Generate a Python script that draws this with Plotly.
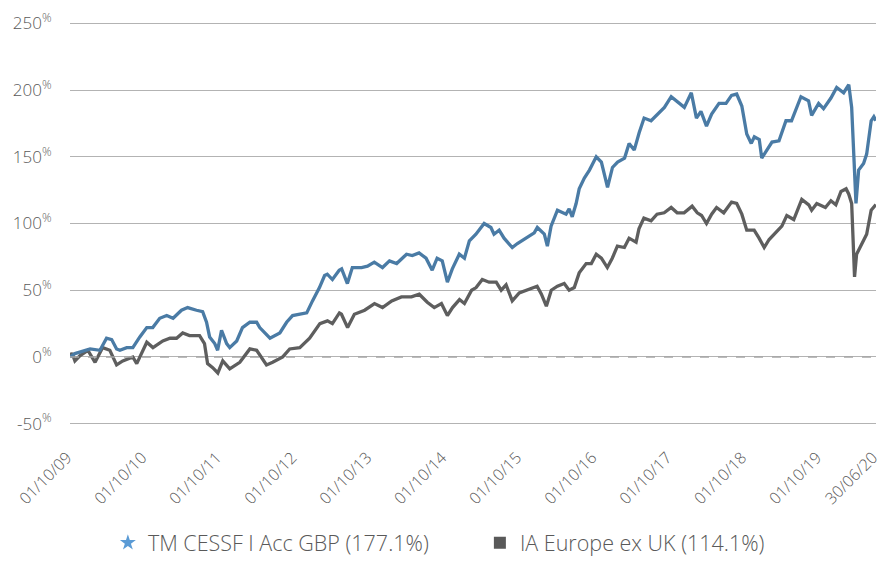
import plotly.graph_objects as go

fund_name = "TM CESSF I Acc GBP (177.1%)"
sector_name = "IA Europe ex UK (114.1%)"

fund_dates = [
    "2009-10-01", "2009-10-25", "2010-01-07", "2010-02-24", "2010-03-28", "2010-04-22",
    "2010-05-16", "2010-06-01", "2010-07-04", "2010-08-03", "2010-09-06", "2010-10-10",
    "2010-11-08", "2010-12-12", "2011-01-15", "2011-02-15", "2011-03-28", "2011-04-27",
    "2011-06-09", "2011-07-09", "2011-07-28", "2011-08-12", "2011-09-06", "2011-09-20",
    "2011-10-09", "2011-11-03", "2011-11-18", "2011-12-22", "2012-01-19", "2012-02-24",
    "2012-03-28", "2012-04-12", "2012-06-01", "2012-07-19", "2012-08-21", "2012-09-19",
    "2012-10-25", "2012-11-27", "2012-12-25", "2013-01-28", "2013-02-22", "2013-03-07",
    "2013-04-01", "2013-05-04", "2013-05-16", "2013-06-13", "2013-07-07", "2013-08-21",
    "2013-09-19", "2013-10-22", "2013-12-01", "2014-01-04", "2014-02-08", "2014-03-28",
    "2014-04-25", "2014-05-28", "2014-07-01", "2014-07-31", "2014-08-24", "2014-09-18",
    "2014-10-13", "2014-11-06", "2014-12-10", "2015-01-04", "2015-01-28", "2015-02-22",
    "2015-03-01", "2015-04-10", "2015-05-13", "2015-05-28", "2015-06-22", "2015-07-16",
    "2015-08-25", "2015-09-19", "2015-11-01", "2015-12-10", "2015-12-25", "2016-01-28",
    "2016-02-12", "2016-03-01", "2016-04-01", "2016-05-13", "2016-05-28", "2016-06-12",
    "2016-07-01", "2016-07-16", "2016-08-10", "2016-09-04", "2016-10-07", "2016-11-01",
    "2016-12-01", "2016-12-25", "2017-01-19", "2017-02-22", "2017-03-16", "2017-04-10",
    "2017-05-04", "2017-05-28", "2017-07-01", "2017-07-31", "2017-09-04", "2017-10-07",
    "2017-11-06", "2017-12-10", "2018-01-13", "2018-02-07", "2018-03-01", "2018-03-28",
    "2018-04-22", "2018-05-28", "2018-07-01", "2018-07-28", "2018-08-22", "2018-09-16",
    "2018-10-10", "2018-11-01", "2018-11-16", "2018-12-10", "2018-12-22", "2019-01-16",
    "2019-02-10", "2019-03-16", "2019-04-19", "2019-05-16", "2019-07-01", "2019-08-07",
    "2019-08-22", "2019-09-25", "2019-10-19", "2019-11-24", "2019-12-22", "2020-01-25",
    "2020-02-19", "2020-03-04", "2020-03-13", "2020-03-25", "2020-04-07", "2020-05-01",
    "2020-05-16", "2020-06-07", "2020-06-20", "2020-06-30",
]
fund_values = [
    0, 2.5, 6, 5, 14, 13,
    6, 5, 7, 7, 15, 22,
    22, 29, 31, 29, 35, 37,
    35, 34, 26, 15, 10, 5,
    20, 10, 7, 12, 22, 26,
    26, 22, 14, 18, 26, 31,
    32, 33, 42, 52, 61, 62,
    58, 65, 66, 55, 67, 67,
    68, 71, 67, 72, 70, 77,
    76, 78, 74, 65, 74, 72,
    56, 66, 77, 74, 87, 91,
    92, 100, 97, 92, 95, 89,
    82, 85, 89, 93, 97, 92,
    83, 98, 110, 107, 111, 105,
    115, 126, 134, 140, 150, 146,
    127, 142, 146, 149, 160, 155,
    168, 179, 177, 182, 187, 195,
    191, 187, 198, 179, 184, 173,
    182, 190, 190, 196, 197, 188,
    167, 160, 165, 163, 149, 155,
    161, 162, 177, 177, 195, 192,
    181, 190, 186, 194, 202, 198,
    204, 187, 157, 115, 140, 145,
    152, 177, 180, 177.1,
]

sector_dates = [
    "2009-10-01", "2009-10-11", "2009-10-25", "2009-11-19", "2009-12-27", "2010-01-31",
    "2010-03-09", "2010-04-13", "2010-05-16", "2010-06-15", "2010-08-03", "2010-08-22",
    "2010-10-10", "2010-11-09", "2010-12-27", "2011-01-31", "2011-03-04", "2011-04-03",
    "2011-05-06", "2011-06-24", "2011-07-18", "2011-08-02", "2011-08-27", "2011-09-21",
    "2011-10-15", "2011-11-18", "2012-01-06", "2012-02-24", "2012-03-28", "2012-05-15",
    "2012-06-14", "2012-08-02", "2012-09-05", "2012-10-24", "2012-12-11", "2013-01-30",
    "2013-03-08", "2013-04-01", "2013-05-05", "2013-05-15", "2013-06-14", "2013-07-17",
    "2013-09-05", "2013-10-23", "2013-12-01", "2014-01-15", "2014-03-03", "2014-04-21",
    "2014-05-29", "2014-07-07", "2014-08-10", "2014-09-14", "2014-10-13", "2014-11-07",
    "2014-12-11", "2015-01-04", "2015-02-08", "2015-03-02", "2015-04-01", "2015-05-04",
    "2015-06-08", "2015-07-02", "2015-07-26", "2015-08-25", "2015-09-28", "2015-11-06",
    "2015-12-24", "2016-01-14", "2016-02-07", "2016-03-02", "2016-04-01", "2016-05-04",
    "2016-05-28", "2016-06-22", "2016-07-16", "2016-08-19", "2016-09-13", "2016-10-07",
    "2016-11-01", "2016-11-30", "2016-12-24", "2017-01-18", "2017-02-21", "2017-03-16",
    "2017-04-19", "2017-05-03", "2017-05-27", "2017-07-01", "2017-07-30", "2017-09-03",
    "2017-10-07", "2017-11-05", "2017-12-09", "2018-01-17", "2018-02-11", "2018-03-04",
    "2018-03-28", "2018-04-22", "2018-05-16", "2018-06-20", "2018-07-28", "2018-08-22",
    "2018-09-16", "2018-10-10", "2018-11-15", "2018-12-09", "2019-01-03", "2019-01-27",
    "2019-03-01", "2019-03-30", "2019-04-23", "2019-05-27", "2019-07-05", "2019-08-08",
    "2019-08-22", "2019-09-16", "2019-10-28", "2019-11-24", "2019-12-18", "2020-01-12",
    "2020-02-06", "2020-02-19", "2020-03-04", "2020-03-13", "2020-03-18", "2020-03-28",
    "2020-04-22", "2020-05-16", "2020-06-07", "2020-06-30",
]
sector_values = [
    0, 3, -3, 1, 5, -4,
    7, 5, -6, -3, 0, -5,
    11, 7, 12, 14, 14, 18,
    16, 16, 10, -5, -8, -12,
    -3, -9, -4, 6, 5, -6,
    -4, 0, 6, 7, 14, 25,
    27, 25, 33, 32, 22, 32,
    35, 40, 37, 42, 45, 45,
    47, 41, 37, 40, 31, 37,
    43, 40, 50, 52, 58, 56,
    56, 50, 54, 42, 48, 50,
    53, 47, 38, 50, 53, 55,
    50, 52, 63, 70, 70, 77,
    74, 67, 74, 83, 82, 89,
    86, 96, 104, 102, 107, 108,
    112, 108, 108, 113, 108, 106,
    100, 107, 112, 108, 116, 115,
    107, 95, 95, 89, 82, 88,
    93, 98, 106, 103, 118, 114,
    110, 115, 112, 117, 114, 124,
    126, 122, 115, 87, 60, 77,
    85, 92, 110, 114.1,
]

tick_dates = ["2009-10-01", "2010-10-01", "2011-10-01", "2012-10-01", "2013-10-01",
              "2014-10-01", "2015-10-01", "2016-10-01", "2017-10-01", "2018-10-01",
              "2019-10-01", "2020-06-30"]
tick_labels = ["01/10/09", "01/10/10", "01/10/11", "01/10/12", "01/10/13", "01/10/14",
               "01/10/15", "01/10/16", "01/10/17", "01/10/18", "01/10/19", "30/06/20"]
y_ticks = [-50, 0, 50, 100, 150, 200, 250]
y_labels = [f"{v}<sup>%</sup>" for v in y_ticks]

FONT = "Open Sans"
fund_color = "#4a7ba5"
sector_color = "#5e5e5e"

fig = go.Figure()
fig.add_trace(go.Scatter(x=sector_dates, y=sector_values, mode="lines",
                         line=dict(color=sector_color, width=3.3), showlegend=False))
fig.add_trace(go.Scatter(x=fund_dates, y=fund_values, mode="lines",
                         line=dict(color=fund_color, width=3.3), showlegend=False))
# legend entries
fig.add_trace(go.Scatter(x=[None], y=[None], mode="markers", name=fund_name,
                         marker=dict(symbol="star", size=22, color="#5b9bd5")))
fig.add_trace(go.Scatter(x=[None], y=[None], mode="markers", name=sector_name,
                         marker=dict(symbol="square", size=14, color="#595959")))

fig.add_hline(y=0, line=dict(color="white", width=2), layer="below")
fig.add_hline(y=0, line=dict(color="#a6a6a6", width=1.5, dash="dash"))

fig.update_layout(
    width=882, height=563,
    margin=dict(l=70, r=6, t=22, b=138, autoexpand=False),
    paper_bgcolor="white", plot_bgcolor="white",
    font=dict(family=FONT, color="#595959", size=16, weight=300),
    legend=dict(orientation="h", x=0.047, xanchor="left", y=-0.343, yanchor="bottom",
                entrywidth=327, entrywidthmode="pixels",
                font=dict(size=21.5, color="#595959", weight=300), itemsizing="constant"),
)
fig.update_xaxes(type="date", range=["2009-10-01", "2020-06-30 12:00"], automargin=False,
                 tickvals=tick_dates, ticktext=tick_labels, tickangle=-45,
                 ticklabeloverflow="allow", ticklabelshift=-3,
                 showgrid=False, zeroline=False, showline=False,
                 ticks="outside", ticklen=16, tickcolor="rgba(0,0,0,0)",
                 tickfont=dict(size=16, color="#595959", weight=300))
fig.update_yaxes(range=[-51, 251], tickvals=y_ticks, ticktext=y_labels, automargin=False,
                 showgrid=True, gridcolor="#b3b3b3", gridwidth=1,
                 zeroline=False, showline=False,
                 ticks="outside", ticklen=14, tickcolor="rgba(0,0,0,0)",
                 tickfont=dict(size=17, color="#595959", weight=300))

fig.write_html("out.html", config={"displayModeBar": False},
               post_script="document.body.style.margin='0';")
